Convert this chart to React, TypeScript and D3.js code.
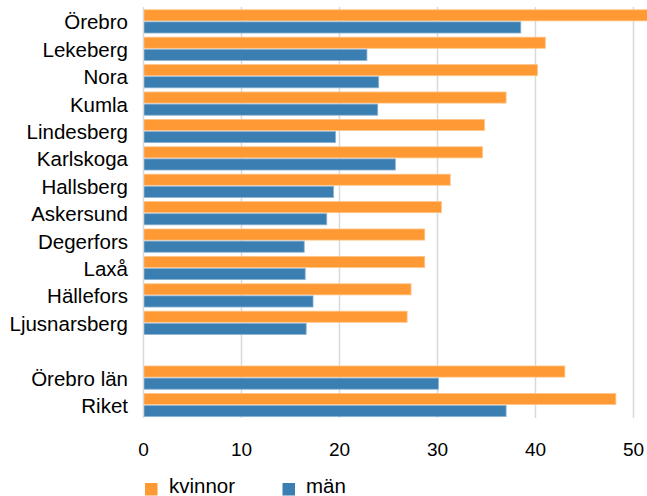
import React from "react";
import * as d3 from "d3";

const municipalities = ["Örebro", "Lekeberg", "Nora", "Kumla", "Lindesberg", "Karlskoga", "Hallsberg", "Askersund", "Degerfors", "Laxå", "Hällefors", "Ljusnarsberg"];
const kvinnorMun = [51.5, 41.0, 40.2, 37.0, 34.8, 34.6, 31.3, 30.4, 28.7, 28.7, 27.3, 26.9];
const manMun = [38.5, 22.8, 24.0, 23.9, 19.6, 25.7, 19.4, 18.7, 16.4, 16.5, 17.3, 16.6];

const regions = ["Örebro län", "Riket"];
const kvinnorReg = [43.0, 48.2];
const manReg = [30.1, 37.0];

const seriesNames = ["kvinnor", "män"];
const seriesColors = ["#FF9933", "#3B7EB1"];
const xTicks = [0, 10, 20, 30, 40, 50];

const W = 647;
const H = 496;
const FONT = "'Liberation Sans', Arial, sans-serif";
const FS = 20.5;
const TFS = 19;

export default function App() {
  const GAP = "__gap__";
  const domain = [...municipalities, GAP, ...regions];
  const rows = [
    ...municipalities.map((name, i) => ({ name, values: [kvinnorMun[i], manMun[i]] })),
    ...regions.map((name, i) => ({ name, values: [kvinnorReg[i], manReg[i]] })),
  ];

  const x = d3.scaleLinear().domain([0, 50]).range([143.5, 633.5]);
  const y = d3.scaleBand<string>().domain(domain).range([7.7, 418.7]).paddingInner(0.115).paddingOuter(0.0575);
  const sub = d3.scaleBand<string>().domain(seriesNames).range([0, y.bandwidth()]).padding(0);

  return (
    <svg width={W} height={H} style={{ position: "absolute", left: 0, top: 0, background: "#fff" }} fontFamily={FONT}>
      {xTicks.filter((t) => t > 0).map((t) => (
        <line key={"g" + t} x1={x(t)} x2={x(t)} y1={7} y2={418} stroke="#D9D9D9" strokeWidth={1.5} />
      ))}
      {rows.map((r) => (
        <g key={r.name} transform={`translate(0,${y(r.name)})`}>
          {r.values.map((v, j) => (
            <rect
              key={j}
              x={x(0)}
              y={sub(seriesNames[j])! + 0.5}
              width={x(v) - x(0)}
              height={sub.bandwidth() - 1}
              fill={seriesColors[j]}
              stroke={j === 0 ? "#FFC58A" : "#8DB3D3"}
              strokeWidth={0.8}
            />
          ))}
          <text x={128} y={y.bandwidth() / 2 + 0.5} textAnchor="end" dominantBaseline="central" fontSize={FS} fill="#000">
            {r.name}
          </text>
        </g>
      ))}
      <line x1={x(0)} x2={x(0)} y1={7} y2={418} stroke="#D9D9D9" strokeWidth={1.5} />
      {xTicks.map((t) => (
        <text key={"t" + t} x={x(t)} y={449} textAnchor="middle" dominantBaseline="central" fontSize={TFS} fill="#000">
          {t}
        </text>
      ))}
      <g>
        <rect x={145} y={483} width={12.5} height={12.5} fill={seriesColors[0]} />
        <text x={169} y={493} fontSize={FS} fill="#000">{seriesNames[0]}</text>
        <rect x={282.5} y={483} width={12.5} height={12.5} fill={seriesColors[1]} />
        <text x={306} y={493} fontSize={FS} fill="#000">{seriesNames[1]}</text>
      </g>
    </svg>
  );
}
